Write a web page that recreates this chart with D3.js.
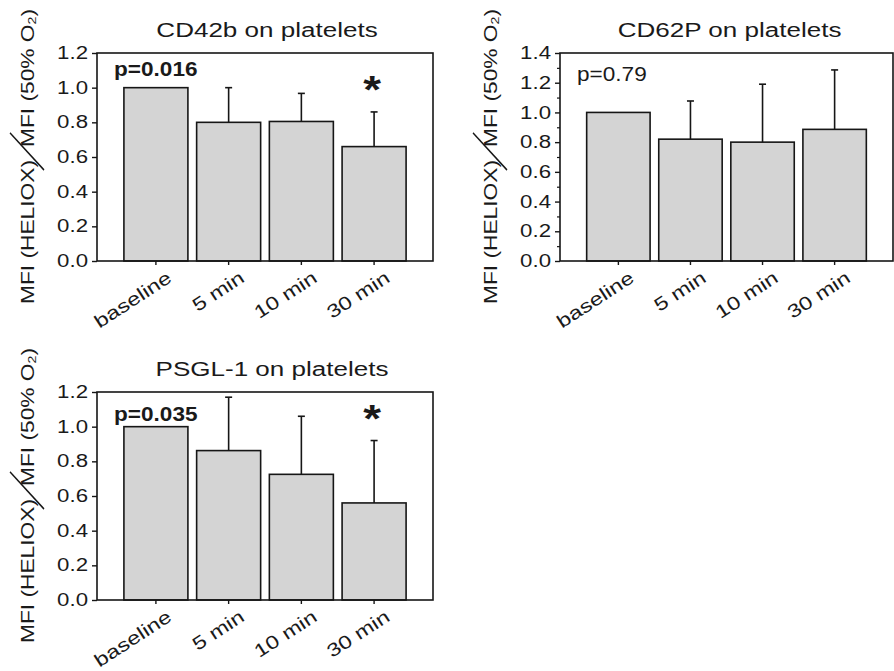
<!DOCTYPE html>
<html>
<head>
<meta charset="utf-8">
<script src="https://cdn.jsdelivr.net/npm/d3@7"></script>
<style>
  body { margin: 0; background: #fff; }
  text { font-family: "Liberation Sans", Arial, sans-serif; fill: #1a1a1a; }
</style>
</head>
<body>
<div id="root"></div>
<script>
// data
const categories = ['baseline', '5 min', '10 min', '30 min'];

const cd42bMean = [1.0, 0.80, 0.805, 0.66];
const cd42bSd = [0, 0.20, 0.162, 0.20];
const cd42bStar = [false, false, false, true];

const cd62pMean = [1.0, 0.82, 0.80, 0.886];
const cd62pSd = [0, 0.257, 0.39, 0.40];
const cd62pStar = [false, false, false, false];

const psglMean = [1.0, 0.862, 0.725, 0.56];
const psglSd = [0, 0.308, 0.335, 0.36];
const psglStar = [false, false, false, true];

const titles = ['CD42b on platelets', 'CD62P on platelets', 'PSGL-1 on platelets'];
const pLabels = ['p=0.016', 'p=0.79', 'p=0.035'];
const pBold = [true, false, true];
const yMaxes = [1.2, 1.4, 1.2];

// layout of the three panels
const layout = [
    { left: 97, top: 53, width: 336, pDy: 23, titleDx: 2, minor: false },
    { left: 560, top: 53, width: 333, pDy: 28, titleDx: 3, minor: true },
    { left: 97, top: 392, width: 336, pDy: 29, titleDx: 7, minor: false },
];
const plotH = 208;

const panels = [
    { mean: cd42bMean, sd: cd42bSd, star: cd42bStar },
    { mean: cd62pMean, sd: cd62pSd, star: cd62pStar },
    { mean: psglMean, sd: psglSd, star: psglStar },
];

const svg = d3.select('#root')
    .append('svg')
        .attr('width', 894)
        .attr('height', 671);

const ink = '#161616';

panels.forEach((d, i) => {
    const L = layout[i];
    const g = svg.append('g')
        .attr('transform', `translate(${L.left}, ${L.top})`);

    const x = d3.scaleBand()
        .domain(categories)
        .range([0, L.width])
        .paddingInner(0.12)
        .paddingOuter(0.37);

    const y = d3.scaleLinear()
        .domain([0, yMaxes[i]])
        .range([plotH, 0]);

    const rows = categories.map((c, k) => ({ c, m: d.mean[k], s: d.sd[k], star: d.star[k] }));

    // bars
    g.selectAll('rect.bar')
        .data(rows)
        .enter()
        .append('rect')
            .attr('class', 'bar')
            .attr('x', r => x(r.c))
            .attr('y', r => y(r.m))
            .attr('width', x.bandwidth())
            .attr('height', r => plotH - y(r.m))
            .attr('fill', '#d4d4d4')
            .attr('stroke', ink)
            .attr('stroke-width', 1.6);

    // upper error bars
    const eb = g.selectAll('g.err')
        .data(rows.filter(r => r.s > 0))
        .enter()
        .append('g')
            .attr('class', 'err');
    eb.append('line')
        .attr('x1', r => x(r.c) + x.bandwidth() / 2)
        .attr('x2', r => x(r.c) + x.bandwidth() / 2)
        .attr('y1', r => y(r.m))
        .attr('y2', r => y(r.m + r.s))
        .attr('stroke', ink)
        .attr('stroke-width', 1.6);
    eb.append('line')
        .attr('x1', r => x(r.c) + x.bandwidth() / 2 - 3.5)
        .attr('x2', r => x(r.c) + x.bandwidth() / 2 + 3.5)
        .attr('y1', r => y(r.m + r.s))
        .attr('y2', r => y(r.m + r.s))
        .attr('stroke', ink)
        .attr('stroke-width', 1.6);

    // significance stars
    g.selectAll('text.star')
        .data(rows.filter(r => r.star))
        .enter()
        .append('text')
            .attr('class', 'star')
            .attr('text-anchor', 'middle')
            .attr('font-size', 38)
            .attr('font-weight', 'bold')
            .attr('transform', r => `translate(${x(r.c) + x.bandwidth() / 2 - 2}, ${y(r.m + r.s) - 9}) scale(1.2,1)`)
            .text('*');

    // frame
    g.append('rect')
        .attr('width', L.width)
        .attr('height', plotH)
        .attr('fill', 'none')
        .attr('stroke', ink)
        .attr('stroke-width', 1.6);

    // y axis
    const yAxis = g.append('g')
        .call(d3.axisLeft(y)
            .tickValues(d3.range(0, yMaxes[i] + 0.01, 0.2))
            .tickFormat(d3.format('.1f'))
            .tickSize(5)
            .tickSizeOuter(0));
    yAxis.select('.domain').remove();
    yAxis.selectAll('line').attr('stroke', ink).attr('stroke-width', 1.4);
    yAxis.selectAll('text')
        .attr('x', null)
        .attr('font-size', 17.5)
        .attr('fill', ink)
        .attr('transform', 'translate(-9,0) scale(1.27,1)');

    if (L.minor) {
        const minor = g.append('g')
            .call(d3.axisLeft(y)
                .tickValues(d3.range(0.1, yMaxes[i], 0.2))
                .tickFormat('')
                .tickSize(3)
                .tickSizeOuter(0));
        minor.select('.domain').remove();
        minor.selectAll('line').attr('stroke', ink).attr('stroke-width', 1.2);
    }

    // x axis
    const xAxis = g.append('g')
        .attr('transform', `translate(0, ${plotH})`)
        .call(d3.axisBottom(x).tickSize(4).tickSizeOuter(0));
    xAxis.select('.domain').remove();
    xAxis.selectAll('line').attr('stroke', ink).attr('stroke-width', 1.4);
    xAxis.selectAll('text')
        .attr('y', 0)
        .attr('dy', 0)
        .attr('font-size', 18.5)
        .attr('fill', ink)
        .attr('text-anchor', 'end')
        .attr('transform', 'translate(17,20) rotate(-33) scale(1.27,1)');

    // title
    g.append('text')
        .attr('text-anchor', 'middle')
        .attr('font-size', 21)
        .attr('transform', `translate(${L.width / 2 + L.titleDx}, -16) scale(1.24,1)`)
        .text(titles[i]);

    // p value
    g.append('text')
        .attr('font-size', 20)
        .attr('font-weight', pBold[i] ? 'bold' : 'normal')
        .attr('transform', `translate(17, ${L.pDy}) scale(1.13,1)`)
        .text(pLabels[i]);

    // y label: MFI (HELIOX) / MFI (50% O2)
    const yl = g.append('g')
        .attr('transform', `translate(-63, ${plotH / 2 - 3.5}) rotate(-90) scale(1.3,1)`);
    yl.append('text')
        .attr('x', -5)
        .attr('text-anchor', 'end')
        .attr('font-size', 17.5)
        .text('MFI (HELIOX)');
    const den = yl.append('text')
        .attr('x', 5)
        .attr('font-size', 17.5)
        .text('MFI (50% O');
    den.append('tspan').attr('font-size', 11).attr('dy', 2).text('2');
    den.append('tspan').attr('dy', -2).text(')');
    yl.append('line')
        .attr('x1', -12.7).attr('y1', 10)
        .attr('x2', 15.8).attr('y2', -24)
        .attr('stroke', ink)
        .attr('stroke-width', 1.3);
});
</script>
</body>
</html>
